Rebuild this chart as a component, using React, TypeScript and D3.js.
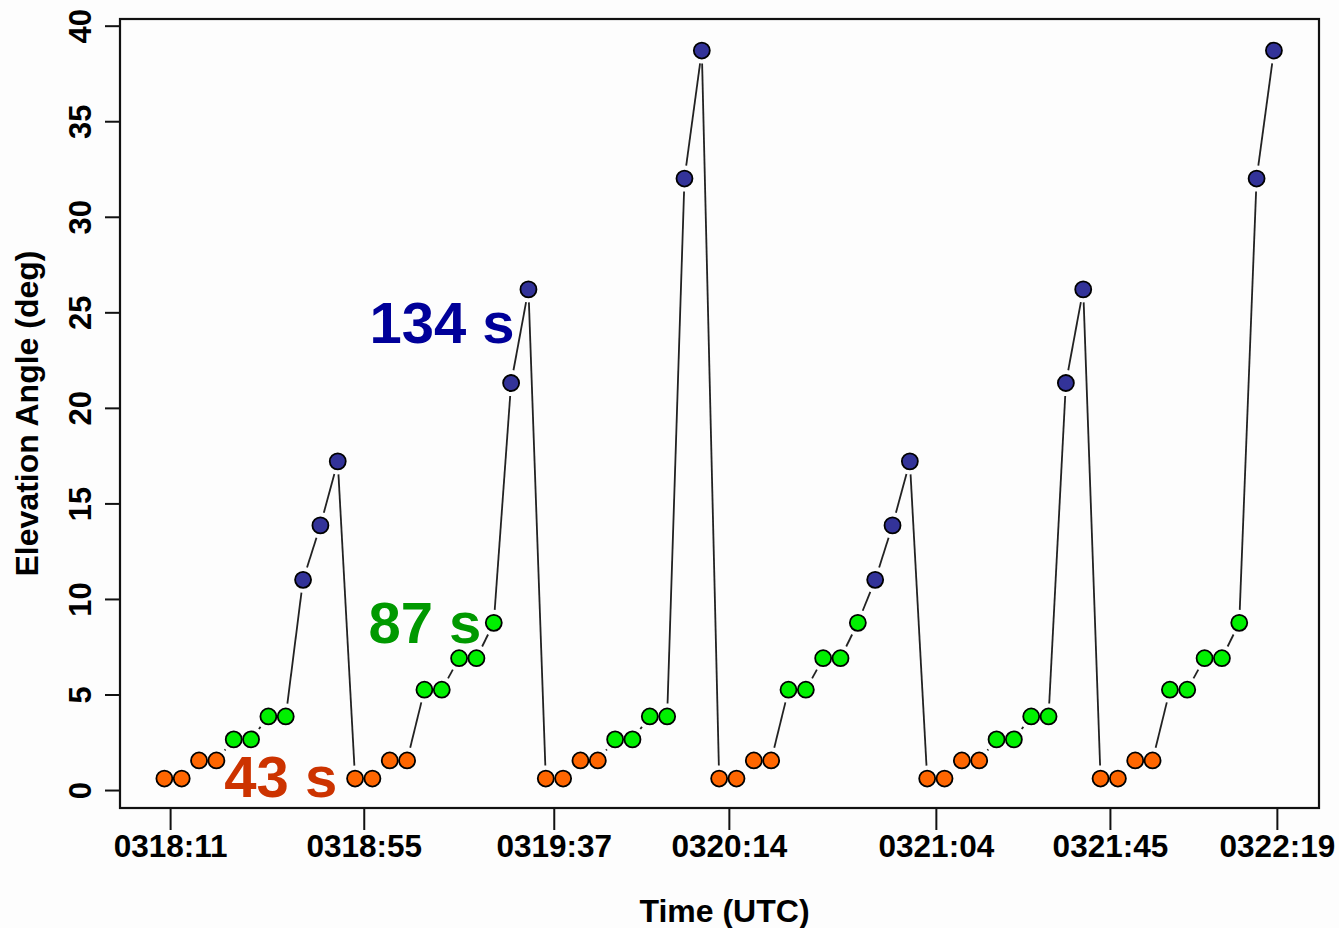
import { useEffect, useRef } from 'react';
import * as d3 from 'd3';

// elevation angle per scan, in order (deg)
const elevations = [
  0.6, 0.6, 1.55, 1.55, 2.65, 2.65, 3.85, 3.85, 11.0, 13.85, 17.2,
  0.6, 0.6, 1.55, 1.55, 5.25, 5.25, 6.9, 6.9, 8.75, 21.3, 26.2,
  0.6, 0.6, 1.55, 1.55, 2.65, 2.65, 3.85, 3.85, 32.0, 38.7,
  0.6, 0.6, 1.55, 1.55, 5.25, 5.25, 6.9, 6.9, 8.75, 11.0, 13.85, 17.2,
  0.6, 0.6, 1.55, 1.55, 2.65, 2.65, 3.85, 3.85, 21.3, 26.2,
  0.6, 0.6, 1.55, 1.55, 5.25, 5.25, 6.9, 6.9, 8.75, 32.0, 38.7,
];

// revisit group of each scan: 43 s (low), 87 s (mid), 134 s (high)
const groups = [
  'L', 'L', 'L', 'L', 'M', 'M', 'M', 'M', 'H', 'H', 'H',
  'L', 'L', 'L', 'L', 'M', 'M', 'M', 'M', 'M', 'H', 'H',
  'L', 'L', 'L', 'L', 'M', 'M', 'M', 'M', 'H', 'H',
  'L', 'L', 'L', 'L', 'M', 'M', 'M', 'M', 'M', 'H', 'H', 'H',
  'L', 'L', 'L', 'L', 'M', 'M', 'M', 'M', 'H', 'H',
  'L', 'L', 'L', 'L', 'M', 'M', 'M', 'M', 'M', 'H', 'H',
];

const timeTickPos = [0.33, 11.5, 22.46, 32.56, 44.5, 54.54, 64.17];
const timeTickLabels = ['0318:11', '0318:55', '0319:37', '0320:14', '0321:04', '0321:45', '0322:19'];
const elevTicks = [0, 5, 10, 15, 20, 25, 30, 35, 40];

const fillOf: Record<string, string> = { L: '#ff6600', M: '#00f000', H: '#333399' };

export default function App() {
  const ref = useRef<SVGSVGElement>(null);

  useEffect(() => {
    document.body.style.margin = '0';
    const width = 1339;
    const height = 928;
    const left = 120, right = 1319, top = 19, bottom = 808;
    const font = '"Liberation Sans", Arial, sans-serif';

    const svg = d3.select(ref.current);
    svg.selectAll('*').remove();

    const x = d3.scaleLinear().domain([-2.56, 66.6]).range([left, right]);
    const y = d3.scaleLinear().domain([-0.94, 40.35]).range([bottom, top]);

    svg.append('rect').attr('width', width).attr('height', height).attr('fill', '#fdfdfd');

    const pts = elevations.map((v, i) => ({ px: x(i), py: y(v), g: groups[i] }));

    // connecting line, with gaps around the points (like R type="b")
    const gap = 13;
    const segs = d3.pairs(pts).map(([a, b]) => {
      const dx = b.px - a.px, dy = b.py - a.py;
      const len = Math.hypot(dx, dy);
      if (len <= 2 * gap) return null;
      const ux = dx / len, uy = dy / len;
      return [a.px + ux * gap, a.py + uy * gap, b.px - ux * gap, b.py - uy * gap];
    }).filter(Boolean) as number[][];

    svg.append('g')
      .selectAll('line')
      .data(segs)
      .enter()
      .append('line')
      .attr('x1', d => d[0]).attr('y1', d => d[1])
      .attr('x2', d => d[2]).attr('y2', d => d[3])
      .attr('stroke', '#222')
      .attr('stroke-width', 1.8);

    svg.append('g')
      .selectAll('circle')
      .data(pts)
      .enter()
      .append('circle')
      .attr('cx', d => d.px)
      .attr('cy', d => d.py)
      .attr('r', 8)
      .attr('fill', d => fillOf[d.g])
      .attr('stroke', '#000')
      .attr('stroke-width', 1.8);

    // box
    svg.append('rect')
      .attr('x', left).attr('y', top)
      .attr('width', right - left).attr('height', bottom - top)
      .attr('fill', 'none').attr('stroke', '#111').attr('stroke-width', 2.2);

    // x axis
    const xAxis = svg.append('g').attr('transform', `translate(0,${bottom})`)
      .call(d3.axisBottom(x).tickValues(timeTickPos).tickFormat((_, i) => timeTickLabels[i]).tickSize(22).tickSizeOuter(0));
    xAxis.select('.domain').remove();
    xAxis.selectAll('line').attr('stroke', '#111').attr('stroke-width', 2);
    xAxis.selectAll('text')
      .attr('y', 49)
      .attr('dy', 0)
      .style('font-family', font)
      .style('font-weight', 'bold')
      .style('font-size', '31.5px')
      .attr('fill', '#000');

    // y axis
    const yAxis = svg.append('g').attr('transform', `translate(${left},0)`)
      .call(d3.axisLeft(y).tickValues(elevTicks).tickSize(15).tickSizeOuter(0));
    yAxis.select('.domain').remove();
    yAxis.selectAll('line').attr('stroke', '#111').attr('stroke-width', 2);
    yAxis.selectAll('text')
      .attr('x', 0).attr('dy', 0)
      .attr('transform', 'translate(-29,0) rotate(-90)')
      .attr('text-anchor', 'middle')
      .style('font-family', font)
      .style('font-weight', 'bold')
      .style('font-size', '31px')
      .attr('fill', '#000');

    // axis titles
    svg.append('text')
      .attr('x', (left + right) / 2 + 5)
      .attr('y', 922)
      .attr('text-anchor', 'middle')
      .style('font-family', font)
      .style('font-weight', 'bold')
      .style('font-size', '32px')
      .text('Time (UTC)');

    svg.append('text')
      .attr('transform', `translate(38,${(top + bottom) / 2}) rotate(-90)`)
      .attr('text-anchor', 'middle')
      .style('font-family', font)
      .style('font-weight', 'bold')
      .style('font-size', '32px')
      .text('Elevation Angle (deg)');

    // revisit-time labels
    const notes = [
      { text: '134 s', at: [11.83, 23.4], color: '#000099' },
      { text: '87 s', at: [11.77, 7.69], color: '#009900' },
      { text: '43 s', at: [3.46, -0.37], color: '#cc3300' },
    ];
    svg.append('g')
      .selectAll('text')
      .data(notes)
      .enter()
      .append('text')
      .attr('x', d => x(d.at[0]))
      .attr('y', d => y(d.at[1]))
      .attr('fill', d => d.color)
      .style('font-family', font)
      .style('font-weight', 'bold')
      .style('font-size', '58px')
      .text(d => d.text);
  }, []);

  return <svg ref={ref} width={1339} height={928} style={{ display: 'block' }} />;
}
